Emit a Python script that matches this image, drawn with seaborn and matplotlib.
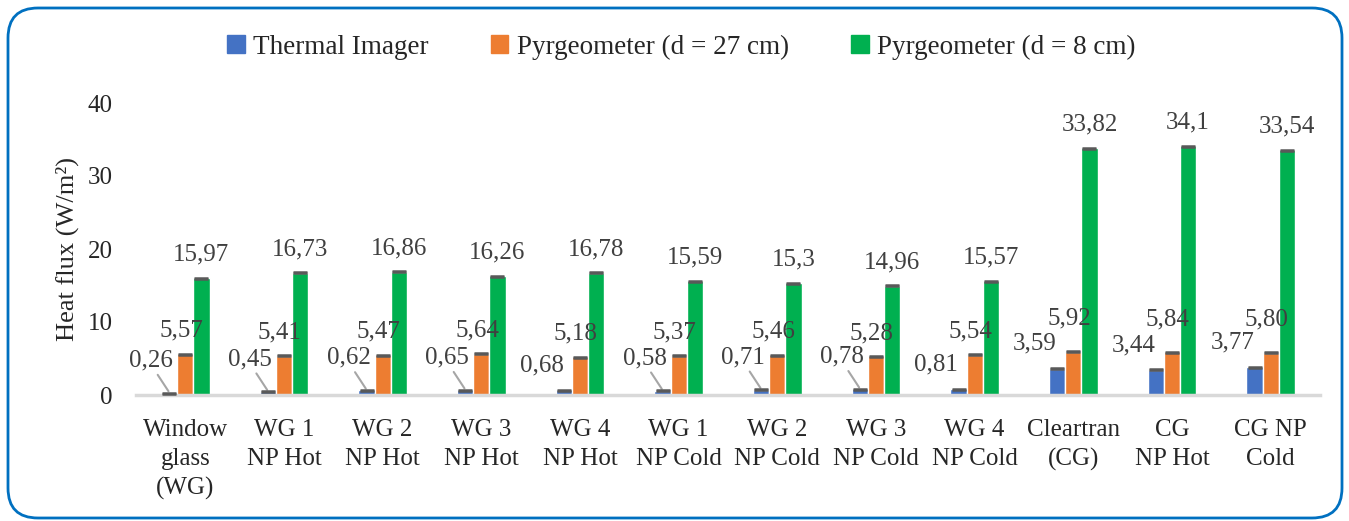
import numpy as np
import pandas as pd
import matplotlib
import matplotlib.pyplot as plt
import seaborn as sns
from matplotlib.patches import FancyBboxPatch
from matplotlib.transforms import IdentityTransform
matplotlib.use('Agg')

# data
categories = ['Window\nglass\n(WG)', 'WG 1\nNP Hot', 'WG 2\nNP Hot', 'WG 3\nNP Hot', 'WG 4\nNP Hot',
              'WG 1\nNP Cold', 'WG 2\nNP Cold', 'WG 3\nNP Cold', 'WG 4\nNP Cold',
              'Cleartran\n(CG)', 'CG\nNP Hot', 'CG NP\nCold']
series = ['Thermal Imager', 'Pyrgeometer (d = 27 cm)', 'Pyrgeometer (d = 8 cm)']
thermal = [0.26, 0.45, 0.62, 0.65, 0.68, 0.58, 0.71, 0.78, 0.81, 3.59, 3.44, 3.77]
pyr27 = [5.57, 5.41, 5.47, 5.64, 5.18, 5.37, 5.46, 5.28, 5.54, 5.92, 5.84, 5.80]
pyr8 = [15.97, 16.73, 16.86, 16.26, 16.78, 15.59, 15.30, 14.96, 15.57, 33.82, 34.10, 33.54]
thermal_txt = ['0,26', '0,45', '0,62', '0,65', '0,68', '0,58', '0,71', '0,78', '0,81', '3,59', '3,44', '3,77']
pyr27_txt = ['5,57', '5,41', '5,47', '5,64', '5,18', '5,37', '5,46', '5,28', '5,54', '5,92', '5,84', '5,80']
pyr8_txt = ['15,97', '16,73', '16,86', '16,26', '16,78', '15,59', '15,3', '14,96', '15,57', '33,82', '34,1', '33,54']
# which thermal imager labels have a leader line
leader = [True, True, True, True, False, True, True, True, False, False, False, False]
err = [0.07] * 12

colors = ['#4472c4', '#ed7d31', '#00b050']

df = pd.DataFrame({
    'cat': categories * 3,
    'series': np.repeat(series, len(categories)),
    'value': thermal + pyr27 + pyr8,
})

sns.set_style('white')
plt.rcParams['font.family'] = ['Liberation Serif', 'DejaVu Serif']

fig = plt.figure(figsize=(13.49, 5.21), dpi=100)
ax = fig.add_axes([136 / 1349, 1 - 395 / 521, (1320 - 136) / 1349, (395 - 103) / 521])

sns.barplot(data=df, x='cat', y='value', hue='series', palette=colors,
            width=0.49, gap=0, saturation=1, ax=ax, legend=False, errorbar=None)

ax.set_ylim(0, 40)
ax.set_xlim(-0.5, len(categories) - 0.5)
ax.set_yticks([0, 10, 20, 30, 40])
ax.tick_params(axis='y', labelsize=18, pad=17, length=0)
ax.tick_params(axis='x', labelsize=18, pad=17, length=0)
for lab in ax.get_xticklabels():
    lab.set_linespacing(1.42)
ax.set_xlabel('')
ax.set_ylabel('Heat flux (W/m²)', fontsize=19, labelpad=6)
for s in ['top', 'right', 'left']:
    ax.spines[s].set_visible(False)
ax.spines['bottom'].set_color('#d9d9d9')
ax.spines['bottom'].set_linewidth(2.5)

labels = [thermal_txt, pyr27_txt, pyr8_txt]
vals = [thermal, pyr27, pyr8]
bar_groups = list(ax.containers)
for k, cont in enumerate(bar_groups):
    xs = [p.get_x() + p.get_width() / 2 for p in cont.patches]
    ax.errorbar(xs, vals[k], yerr=err, fmt='none', ecolor='#595959',
                elinewidth=1, capsize=5, capthick=1.8, zorder=5)
    for i, x in enumerate(xs):
        v = vals[k][i]
        if k == 0:
            if leader[i]:
                ax.annotate(labels[k][i], xy=(x, v + 0.1), xytext=(-13, 15),
                            textcoords='offset points', ha='center', va='bottom',
                            fontsize=18, color='#404040',
                            arrowprops=dict(arrowstyle='-', color='#a6a6a6', lw=1.5,
                                            shrinkA=0, shrinkB=1, relpos=(0.6, 0)))
            else:
                ax.annotate(labels[k][i], xy=(x, v), xytext=(-16, 10),
                            textcoords='offset points', ha='center', va='bottom',
                            fontsize=18, color='#404040')
        elif k == 1:
            up = 9 if thermal[i] < 1 else 16
            ax.annotate(labels[k][i], xy=(x, v), xytext=(-3, up),
                        textcoords='offset points', ha='center', va='bottom',
                        fontsize=18, color='#404040')
        else:
            ax.annotate(labels[k][i], xy=(x, v), xytext=(0, 9),
                        textcoords='offset points', ha='center', va='bottom',
                        fontsize=18, color='#404040', annotation_clip=False)

handles = [plt.Rectangle((0, 0), 1, 1, color=c) for c in colors]
fig.legend(handles, series, loc='center', bbox_to_anchor=(0.505, 1 - 47 / 521), ncol=3,
           frameon=False, fontsize=19.5, handlelength=0.65, handleheight=0.65,
           handletextpad=0.3, columnspacing=2.3)

# rounded blue frame around the figure
frame = FancyBboxPatch((8, 3), 1334, 510, boxstyle='round,pad=0,rounding_size=30',
                       transform=IdentityTransform(), fill=False, edgecolor='#0070c0', lw=2)
fig.patches.append(frame)

fig.savefig('out.png', dpi=100)
